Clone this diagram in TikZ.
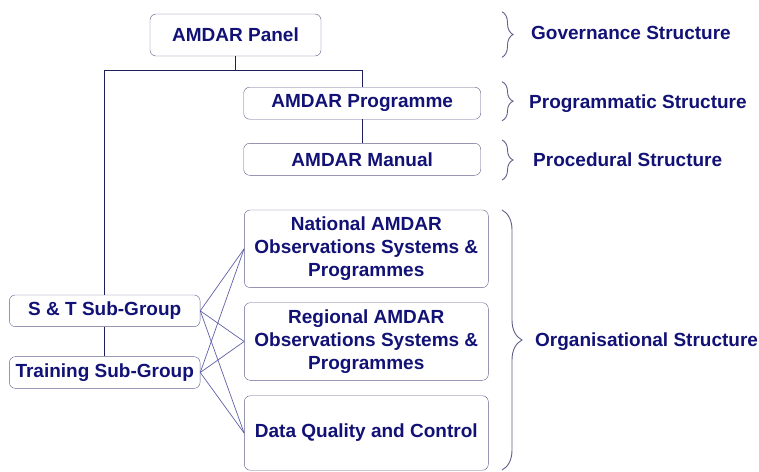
\documentclass[tikz,border=0pt]{standalone}
\usepackage{fontspec}
\setmainfont{Liberation Sans}
\usetikzlibrary{decorations.pathreplacing}

\definecolor{navytext}{RGB}{18,18,118}
\definecolor{boxline}{RGB}{95,95,140}
\definecolor{treeline}{RGB}{30,30,95}
\definecolor{crossline}{RGB}{95,95,170}

\tikzset{
  orgbox/.style={draw=boxline, rounded corners=6pt, fill=white, text=navytext,
    font=\bfseries\fontsize{19}{23.3}\selectfont, align=center, inner sep=0pt},
  level/.style={text=navytext, font=\bfseries\fontsize{19}{23.3}\selectfont, anchor=west, inner sep=0pt},
  tree/.style={draw=treeline, line width=0.9pt},
  cross/.style={draw=crossline, line width=0.7pt},
  curly/.style={draw=boxline, line width=0.9pt, decorate}
}

\begin{document}
\begin{tikzpicture}[x=1pt, y=-1pt]
\useasboundingbox (0,0) rectangle (759,471);

% boxes
\node[orgbox, minimum width=171pt, minimum height=42pt] (panel) at (235.5,35) {AMDAR Panel};
\node[orgbox, minimum width=237pt, minimum height=32pt] (prog) at (362.2,103.2) {AMDAR Programme};
\node[orgbox, minimum width=237pt, minimum height=32pt] (manual) at (362.2,159.3) {AMDAR Manual};
\node[orgbox, minimum width=190.7pt, minimum height=31.7pt] (st) at (104.7,310.8) {S \& T Sub-Group};
\node[orgbox, minimum width=190.7pt, minimum height=31.7pt] (train) at (104.7,372.5) {Training Sub-Group};
\node[orgbox, minimum width=244pt, minimum height=77.7pt] (national) at (366.3,248.8) {National AMDAR\\Observations Systems \&\\Programmes};
\node[orgbox, minimum width=244pt, minimum height=77.6pt] (regional) at (366.3,341.5) {Regional AMDAR\\Observations Systems \&\\Programmes};
\node[orgbox, minimum width=244pt, minimum height=74.5pt] (dq) at (366.3,433) {Data Quality and Control};

% tree
\coordinate (split) at (235.5,70.5);
\draw[tree] (panel.south) -- (split) -| (prog.north);
\draw[tree] (split) -| (st.north);
\draw[tree] (prog) -- (manual);
\draw[tree] (st) -- (train);

% sub-groups to organisation boxes
\foreach \a in {st,train}
  \foreach \b in {national,regional,dq}
    \draw[cross] (\a.east) -- (\b.west);

% braces
\draw[curly, decoration={brace, amplitude=11pt}] (502,11.7) -- (502,57.3);
\draw[curly, decoration={brace, amplitude=11pt}] (502,81.7) -- (502,120.7);
\draw[curly, decoration={brace, amplitude=11pt}] (502,140) -- (502,180);
\draw[curly, decoration={brace, amplitude=20pt}] (502,210) -- (502,470);

% levels
\node[level] (gov) at (531,33.3) {Governance Structure};
\node[level] (progstr) at (529,103.3) {Programmatic Structure};
\node[level] (proc) at (533,160) {Procedural Structure};
\node[level] (orgstr) at (535,341.5) {Organisational Structure};
\end{tikzpicture}
\end{document}
